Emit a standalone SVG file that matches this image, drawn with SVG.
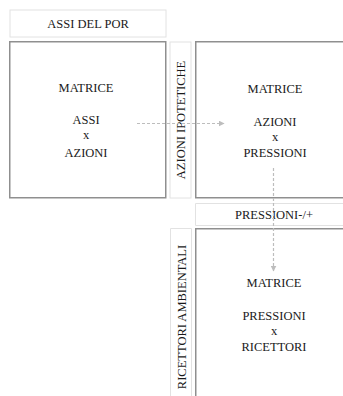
<svg xmlns="http://www.w3.org/2000/svg" width="343" height="396" viewBox="0 0 343 396">
<style>
.main{fill:#fff;stroke:#8f8f8f;stroke-width:1.5}
.lab{fill:#fff;stroke:#e2e2e2;stroke-width:1}
text{font-family:"Liberation Serif","Times New Roman","DejaVu Serif",serif;font-size:12.5px;fill:#1a1a1a;text-anchor:middle}
.conn{stroke:#bdbdbd;stroke-width:1.2;stroke-dasharray:3,2;fill:none}
</style>
<defs>
<marker id="ah" viewBox="0 0 10 10" refX="9" refY="5" markerWidth="6" markerHeight="6" orient="auto" markerUnits="userSpaceOnUse">
<path d="M0,0 L10,5 L0,10 z" fill="#bdbdbd"/>
</marker>
</defs>
<rect width="343" height="396" fill="#fff"/>
<g id="assi-del-por">
<rect class="lab" x="10" y="10" width="156" height="27"/>
<text x="88" y="28">ASSI DEL POR</text>
</g>
<g id="matrice-assi-azioni">
<rect class="main" x="9.75" y="41.75" width="156" height="156"/>
<text x="86" y="92">MATRICE</text>
<text x="86" y="124">ASSI</text>
<text x="86" y="139">x</text>
<text x="86" y="157">AZIONI</text>
</g>
<g id="azioni-ipotetiche">
<rect class="lab" x="170" y="42" width="21" height="156"/>
<text transform="translate(185,120) rotate(-90)">AZIONI IPOTETICHE</text>
</g>
<g id="matrice-azioni-pressioni">
<path class="main" d="M344,41.75 H195.75 V197.75 H344"/>
<text x="275" y="93">MATRICE</text>
<text x="275" y="126">AZIONI</text>
<text x="275" y="141">x</text>
<text x="275" y="157">PRESSIONI</text>
</g>
<g id="pressioni">
<path class="lab" d="M344,203.5 H195.5 V225.5 H344"/>
<text x="274" y="219">PRESSIONI-/+</text>
</g>
<g id="ricettori-ambientali">
<path class="lab" d="M170.5,397 V228.5 H191.5 V397"/>
<text transform="translate(186,317) rotate(-90)">RICETTORI AMBIENTALI</text>
</g>
<g id="matrice-pressioni-ricettori">
<path class="main" d="M344,228.75 H195.75 V397"/>
<text x="274" y="287">MATRICE</text>
<text x="274" y="320">PRESSIONI</text>
<text x="274" y="335">x</text>
<text x="274" y="351">RICETTORI</text>
</g>
<g id="connectors">
<line class="conn" x1="137" y1="123.5" x2="224" y2="123.5" marker-end="url(#ah)"/>
<line class="conn" x1="273.5" y1="168" x2="273.5" y2="271" marker-end="url(#ah)"/>
</g>
</svg>
